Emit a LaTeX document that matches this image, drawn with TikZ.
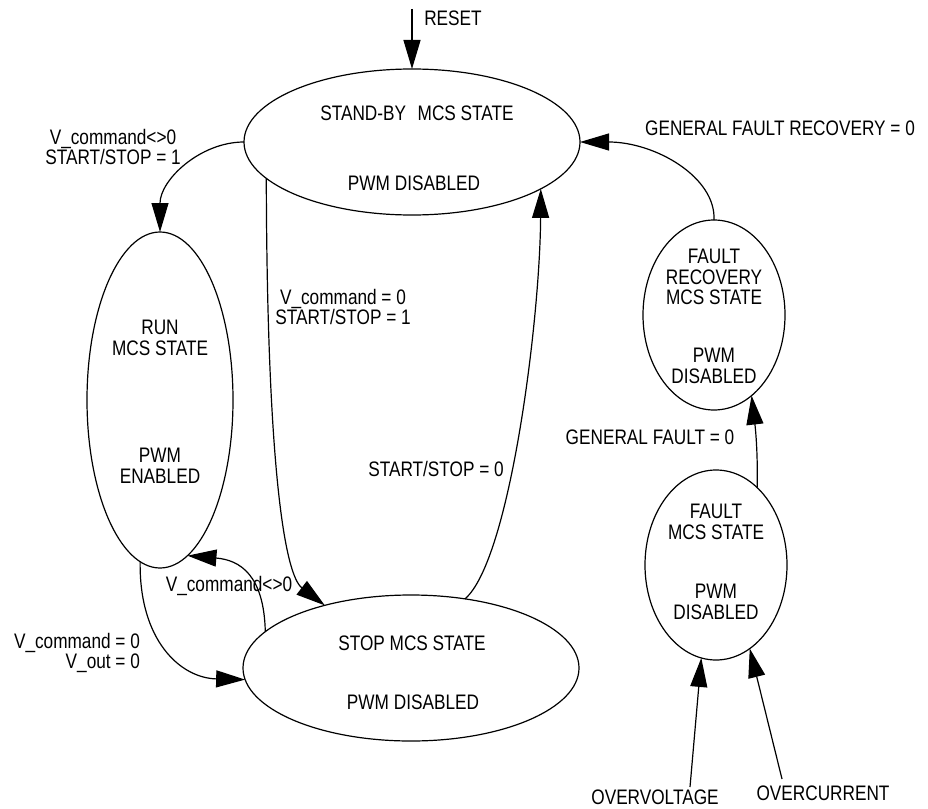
\documentclass[tikz,border=0pt]{standalone}
\usepackage{fontspec}
\setmainfont{Liberation Sans}[FakeStretch=0.82]
\usetikzlibrary{shapes.geometric,arrows.meta}
\begin{document}
\begin{tikzpicture}[x=1pt,y=-1pt,line width=1.2pt,
  font=\fontsize{21}{20.5}\selectfont,
  state/.style={ellipse,draw,inner sep=0pt,outer sep=0pt},
  lbl/.style={align=center,inner sep=0pt},
  arr/.style={-{Triangle[length=29pt,width=17pt]}}]
\useasboundingbox (0,0) rectangle (928,808);
% states
\node[state,minimum width=336pt,minimum height=146pt] (sb) at (412,142) {};
\node[state,minimum width=146pt,minimum height=336pt] (run) at (160,400) {};
\node[state,minimum width=336pt,minimum height=146pt] (stop) at (411,668) {};
\node[state,minimum width=142pt,minimum height=190pt] (fr) at (714,315) {};
\node[state,minimum width=142pt,minimum height=190pt] (fault) at (716,565) {};
% state texts
\node[lbl] (sbA) at (417,113) {STAND-BY\hspace{0.55em}MCS STATE};
\node[lbl] (sbB) at (414,183) {PWM DISABLED};
\node[lbl] (runA) at (160,338) {RUN\\MCS STATE};
\node[lbl] (runB) at (160,466) {PWM\\ENABLED};
\node[lbl] (stopA) at (412,643) {STOP MCS STATE};
\node[lbl] (stopB) at (413,702) {PWM DISABLED};
\node[lbl] (frA) at (714,277) {FAULT\\RECOVERY\\MCS STATE};
\node[lbl] (frB) at (714,366) {PWM\\DISABLED};
\node[lbl] (fA) at (716,522) {FAULT\\MCS STATE};
\node[lbl] (fB) at (716,602) {PWM\\DISABLED};
% transition labels
\node[lbl] (lreset) at (453,18) {RESET};
\node[lbl] (l1) at (113,147) {V\_command<>0\\START/STOP = 1};
\node[lbl] (l2) at (343,307) {V\_command = 0\\START/STOP = 1};
\node[lbl] (l3) at (436,469) {START/STOP = 0};
\node[lbl] (l4) at (229,586) {V\_command<>0};
\node[lbl,align=right] (l5) at (77,653) {V\_command = 0\\V\_out = 0\hspace{9pt}};
\node[lbl] (l6) at (780,128) {GENERAL FAULT RECOVERY = 0};
\node[lbl] (l7) at (650,437) {GENERAL FAULT = 0};
\node[lbl] (lov) at (655,797) {OVERVOLTAGE};
\node[lbl] (loc) at (823,793) {OVERCURRENT};
% connectors
\coordinate (rs) at (412,9);
\coordinate (ovs) at (690,787);
\coordinate (ocs) at (782,779);
\draw[arr] (rs) -- (sb.north);
\draw[arr] (sb.west) .. controls (200,142) and (160,180) .. (run.north);
\draw[arr] (sb.194) .. controls (267,470) and (285,575) .. (stop.144);
\draw[arr] (stop.52) .. controls (510,560) and (540,320) .. (sb.-20);
\draw[arr] (run.263) .. controls (139,640) and (180,678) .. (stop.184);
\draw[arr] (stop.166) .. controls (264,575) and (240,560) .. (run.280);
\draw[arr] (fr.north) .. controls (716,177) and (655,142) .. (sb.east);
\draw[arr] (fault.62) .. controls (758,450) and (755,425) .. (fr.295);
\draw[arr] (ovs) -- (fault.261);
\draw[arr] (ocs) -- (fault.292);
\end{tikzpicture}
\end{document}
